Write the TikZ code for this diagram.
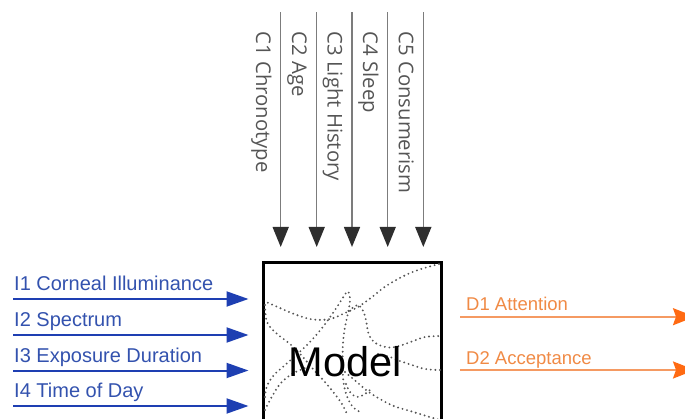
\documentclass[tikz,border=0pt]{standalone}
\usepackage{fontspec}
\setmainfont{Liberation Sans}
\newfontfamily\cfont{Open Sans}
\usetikzlibrary{arrows.meta}
\definecolor{inblue}{HTML}{1E3FB2}
\definecolor{intext}{HTML}{3352AE}
\definecolor{outor}{HTML}{F59A62}
\definecolor{outhead}{HTML}{FF6A12}
\definecolor{outtext}{HTML}{F08A45}
\definecolor{cline}{HTML}{7C7C7C}
\definecolor{chead}{HTML}{2E2E2E}
\definecolor{ctext}{HTML}{555555}
\definecolor{dotc}{HTML}{555555}
\begin{document}
\begin{tikzpicture}[x=1pt,y=-1pt,
  ctrl/.style={draw=cline, line width=1.5pt, -{Triangle[length=20pt,width=16pt,color=chead,fill=chead]}},
  clabel/.style={rotate=-90, anchor=base west, inner sep=0pt, font=\cfont\fontsize{20.3}{21}\selectfont, text=ctext},
  inarrow/.style={draw=inblue, line width=2pt, -{Triangle[length=22pt,width=15pt]}},
  inlabel/.style={anchor=base west, inner sep=0pt, font=\fontsize{20}{22}\selectfont, text=intext},
  outarrow/.style={draw=outor, line width=2pt, -{Stealth[length=22pt,width=17pt,inset=3pt,color=outhead,fill=outhead]}},
  outlabel/.style={anchor=base west, inner sep=0pt, font=\fontsize{18.5}{20}\selectfont, text=outtext},
  dotcurve/.style={draw=dotc, line width=2.1pt, line cap=round, dash pattern=on 0pt off 4.6pt},
  modelbox/.style={draw=black, line width=3pt, minimum width=178pt, minimum height=217pt, inner sep=0pt}
]
\useasboundingbox (0,0) rectangle (685,419);
\clip (0,0) rectangle (685,419);

% control arrows
\foreach \i/\x/\t in {1/280.7/C1 Chronotype, 2/316.7/C2 Age, 3/352/C3 Light History, 4/387.7/C4 Sleep, 5/423.3/C5 Consumerism}{
  \coordinate (ct\i) at (\x,12.5);
  \coordinate (cb\i) at (\x,247);
  \draw[ctrl] (ct\i) -- (cb\i);
  \node[clabel] (cl\i) at (\x-24.5,31.5) {\t};
}

% model box
\node[modelbox] (box) at (352,371.5) {};

% dotted curves
\draw[dotcurve] plot[smooth, tension=0.6] coordinates {(439,264) (418,270) (401.7,277) (385,286.7) (372,297) (358,307) (345,313) (330,319) (313,319.5) (296.7,315) (280,308) (265,301.5)};
\draw[dotcurve] plot[smooth, tension=0.6] coordinates {(265,305) (267,322) (276,333) (290,344) (302,356) (313,369) (324,381) (334,393) (342,404) (347,414)};
\draw[dotcurve] plot[smooth, tension=0.6] coordinates {(265,397) (267,386) (274,375) (284,366) (295,356) (306,346) (318,333) (328,320) (337,307) (344,296) (348,291.5) (350,300) (348,313) (345,327) (343,343) (342.7,360) (343,377) (345,390) (349,401) (354,408) (360,412)};
\draw[dotcurve] plot[smooth, tension=0.6] coordinates {(349,311) (358,305) (364,313) (366.5,323) (368,332) (372,340) (379,345) (389,347.5) (399,346) (412,341.5) (425,337) (440,336)};
\draw[dotcurve] plot[smooth, tension=0.6] coordinates {(378,354) (390,357) (400,361) (412,365) (425,369) (440,370)};
\draw[dotcurve] plot[smooth, tension=0.6] coordinates {(345,372) (358,383) (368,391.5) (381.7,400) (395,406.5) (411.7,411.5) (428,416.5) (440,420)};
\draw[dotcurve] plot[smooth, tension=0.6] coordinates {(265,410) (270,400) (280,384) (292,374) (305,368)};
\draw[dotcurve] plot[smooth, tension=0.6] coordinates {(346,384) (350,392) (357,397) (365,394) (372,388)};

% model text
\node[anchor=base, inner sep=0pt, font=\fontsize{41.5}{44}\selectfont] (mtext) at (345,376.7) {Model};

% input arrows
\foreach \i/\y/\t in {1/299/I1 Corneal Illuminance, 2/335/I2 Spectrum, 3/370.5/I3 Exposure Duration, 4/406/I4 Time of Day}{
  \coordinate (is\i) at (13,\y);
  \coordinate (ie\i) at (248.5,\y);
  \draw[inarrow] (is\i) -- (ie\i);
  \node[inlabel] (il\i) at (14,\y-8.3) {\t};
}

% output arrows
\foreach \i/\y/\t in {1/316.7/D1 Attention, 2/370/D2 Acceptance}{
  \coordinate (os\i) at (460,\y);
  \coordinate (oe\i) at (695,\y);
  \draw[outarrow] (os\i) -- (oe\i);
  \node[outlabel] (ol\i) at (466,\y-6) {\t};
}
\end{tikzpicture}
\end{document}
